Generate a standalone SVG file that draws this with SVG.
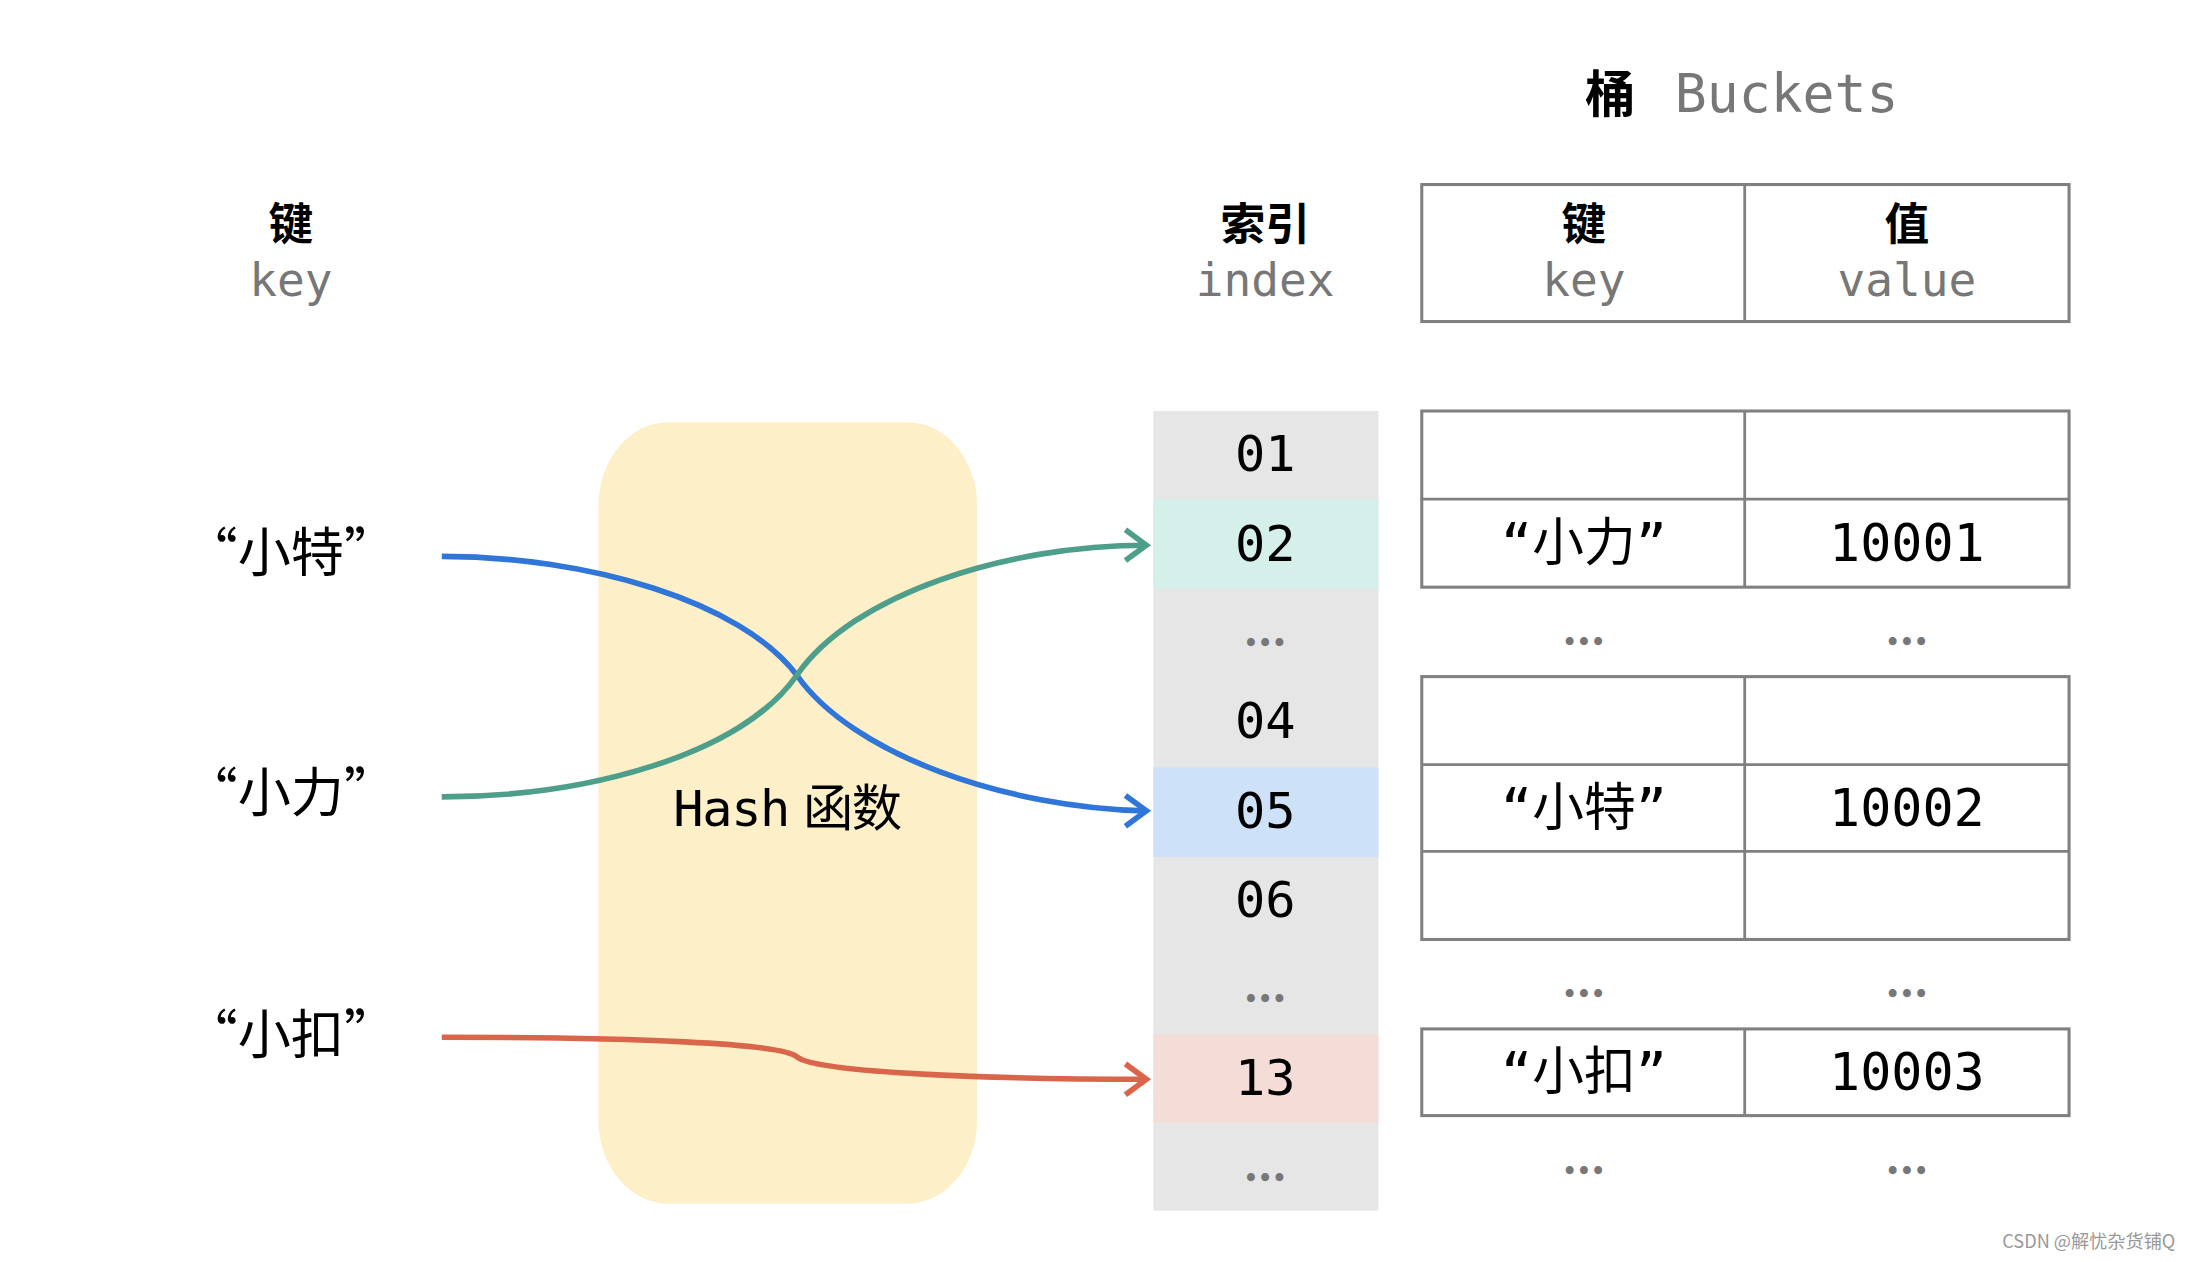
<svg xmlns="http://www.w3.org/2000/svg" width="2192" height="1262" viewBox="0 0 2192 1262">
<style>
.cn{font-family:"Noto Sans CJK SC",sans-serif;font-weight:bold;fill:#000;text-anchor:middle}
.en{font-family:"DejaVu Sans Mono",monospace;fill:#777;text-anchor:middle}
.num{font-family:"DejaVu Sans Mono",monospace;fill:#000;text-anchor:middle;font-size:36px}
.val{font-family:"DejaVu Sans Mono","Noto Sans CJK SC",monospace;fill:#000;text-anchor:middle;font-size:37px}
.dots{font-family:"DejaVu Sans",sans-serif;fill:#777;text-anchor:middle;font-size:16px;font-weight:bold}
.cell{fill:#fff;stroke:#808080;stroke-width:2.2}
.ln{stroke:#808080;stroke-width:2}
.cv{fill:none;stroke-width:4}
</style>
<rect width="2192" height="1262" fill="#fff"/>
<g transform="scale(1.398)">
<g id="title"><text x="1152" y="80" class="cn" font-size="36">桶</text><text x="1278" y="80" class="en" font-size="38">Buckets</text></g>
<g id="keyhead"><text x="208" y="172" class="cn" font-size="32">键</text><text x="208" y="212" class="en" font-size="33">key</text></g>
<g id="indexhead"><text x="905" y="172" class="cn" font-size="32">索引</text><text x="905" y="212" class="en" font-size="33">index</text></g>
<g id="bucketheader">
<rect x="1017" y="132" width="463" height="98" class="cell"/><line x1="1248" y1="132" x2="1248" y2="230" class="ln"/>
<text x="1133" y="172" class="cn" font-size="32">键</text><text x="1133" y="212" class="en" font-size="33">key</text>
<text x="1364" y="172" class="cn" font-size="32">值</text><text x="1364" y="212" class="en" font-size="33">value</text>
</g>
<g id="hash"><rect x="428" y="302" width="271" height="559" rx="50" ry="60" fill="#fdefc8"/>
<text x="563" y="591" font-family="DejaVu Sans Mono,Noto Sans CJK SC,monospace" font-size="36" text-anchor="middle" fill="#000" letter-spacing="-1">Hash<tspan font-family="Noto Sans CJK SC,sans-serif" dx="10">函数</tspan></text></g>
<g id="keys" font-family="Noto Sans CJK SC,sans-serif" font-size="38" text-anchor="middle">
<text x="208" y="409">“小特”</text><text x="208" y="581">“小力”</text><text x="208" y="754">“小扣”</text></g>
<g id="index">
<rect x="825" y="294" width="161" height="572" fill="#e6e6e6"/>
<rect x="825" y="357" width="161" height="64" fill="#d5efea"/>
<rect x="825" y="549" width="161" height="64" fill="#cde1f8"/>
<rect x="825" y="740" width="161" height="63" fill="#f4ddd6"/>
<text x="905" y="337" class="num">01</text><text x="905" y="401" class="num">02</text>
<text x="905" y="466" class="dots">•••</text>
<text x="905" y="528" class="num">04</text><text x="905" y="592" class="num">05</text><text x="905" y="656" class="num">06</text>
<text x="905" y="720" class="dots">•••</text>
<text x="905" y="783" class="num">13</text>
<text x="905" y="848" class="dots">•••</text>
</g>
<g id="bucket1">
<rect x="1017" y="294" width="463" height="126" class="cell"/><line x1="1017" y1="357" x2="1480" y2="357" class="ln"/><line x1="1248" y1="294" x2="1248" y2="420" class="ln"/>
<text x="1133" y="401" class="val">“小力”</text><text x="1364" y="401" class="val">10001</text>
<text x="1133" y="465" class="dots">•••</text><text x="1364" y="465" class="dots">•••</text>
</g>
<g id="bucket2">
<rect x="1017" y="484" width="463" height="188" class="cell"/><line x1="1017" y1="547" x2="1480" y2="547" class="ln"/><line x1="1017" y1="609" x2="1480" y2="609" class="ln"/><line x1="1248" y1="484" x2="1248" y2="672" class="ln"/>
<text x="1133" y="591" class="val">“小特”</text><text x="1364" y="591" class="val">10002</text>
<text x="1133" y="717" class="dots">•••</text><text x="1364" y="717" class="dots">•••</text>
</g>
<g id="bucket3">
<rect x="1017" y="736" width="463" height="62" class="cell"/><line x1="1248" y1="736" x2="1248" y2="798" class="ln"/>
<text x="1133" y="780" class="val">“小扣”</text><text x="1364" y="780" class="val">10003</text>
<text x="1133" y="843" class="dots">•••</text><text x="1364" y="843" class="dots">•••</text>
</g>
<g id="connectors">
<path class="cv" stroke="#2f76d8" d="M316,398 C420,398 530,430 570,483 C610,540 720,578 820,580"/>
<path d="M805,569 L820,580 L805,591" fill="none" stroke="#2f76d8" stroke-width="4"/>
<path class="cv" stroke="#4e9e8c" d="M316,570 C420,570 530,540 570,483 C610,425 720,390 820,390"/>
<path d="M805,379 L820,390 L805,401" fill="none" stroke="#4e9e8c" stroke-width="4"/>
<path class="cv" stroke="#d9654a" d="M316,742 C450,742 560,746 570,756 C585,768 720,772 820,772"/>
<path d="M805,761 L820,772 L805,783" fill="none" stroke="#d9654a" stroke-width="4"/>
</g>
<text x="1556" y="893" font-family="Noto Sans CJK SC,sans-serif" font-size="13" fill="#999" text-anchor="end">CSDN @解忧杂货铺Q</text>
</g>
</svg>
